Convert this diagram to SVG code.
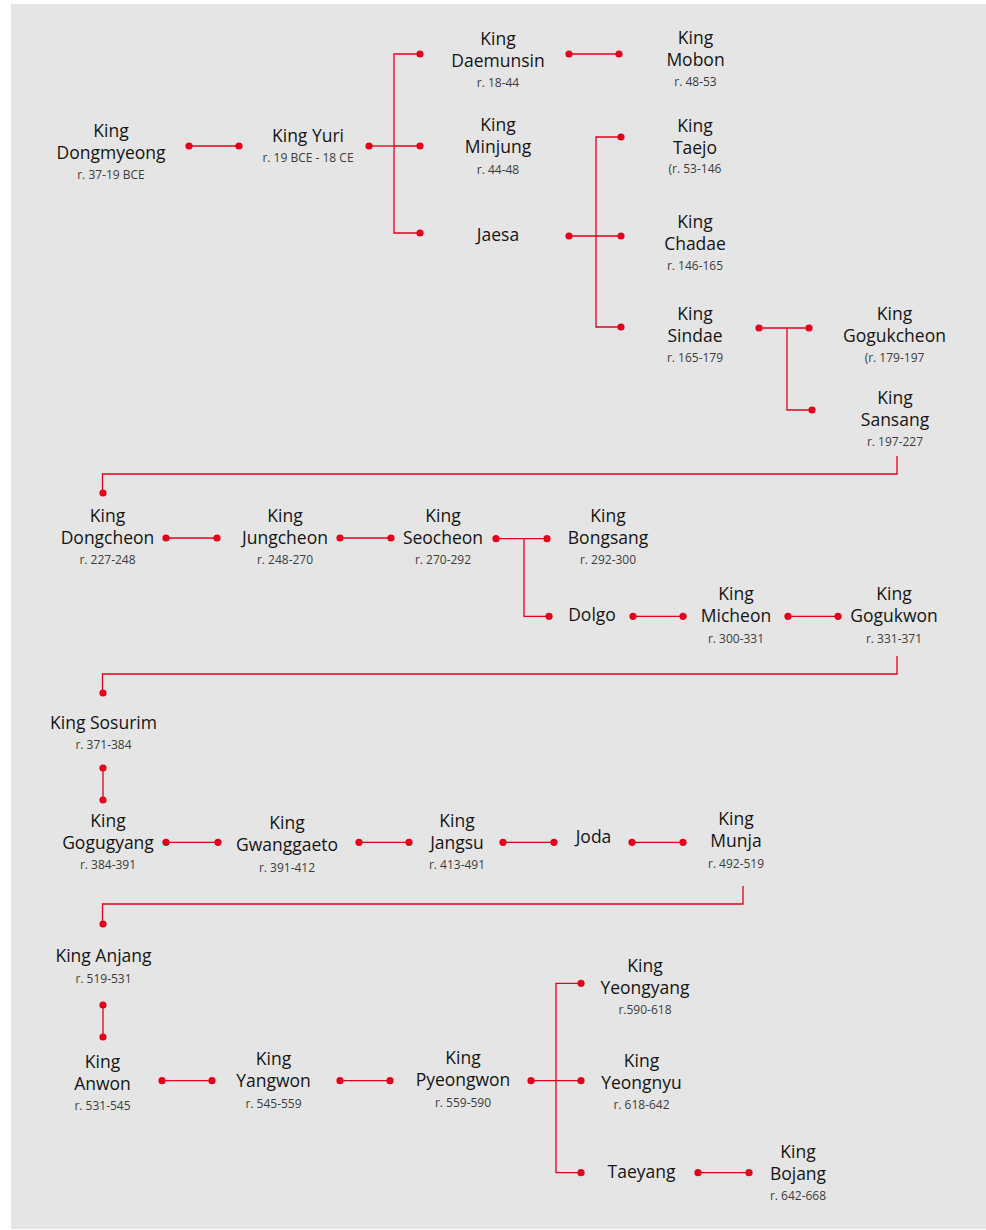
<svg xmlns="http://www.w3.org/2000/svg" width="986" height="1230" viewBox="0 0 986 1230">
<style>
.n{font-family:"Open Sans","Noto Sans",sans-serif;font-size:17.5px;fill:#141414;text-anchor:middle}
.r{font-family:"Open Sans","Noto Sans",sans-serif;font-size:12px;fill:#3c3c3c;text-anchor:middle}
.c line,.c path{stroke:#e4001c;stroke-width:1.3;fill:none}
.c circle{fill:#e4001c}
</style>
<rect x="11" y="4" width="975" height="1225" fill="#e5e5e5"/>
<g class="c" id="connectors">
<line x1="189" y1="146" x2="239" y2="146"/><circle cx="189" cy="146" r="3.6"/><circle cx="239" cy="146" r="3.6"/>
<line x1="369" y1="146" x2="394" y2="146"/><path d="M420,54 H394 V233 H420 M394,146 H420"/><circle cx="369" cy="146" r="3.6"/><circle cx="420" cy="54" r="3.6"/><circle cx="420" cy="146" r="3.6"/><circle cx="420" cy="233" r="3.6"/>
<line x1="569" y1="54" x2="619" y2="54"/><circle cx="569" cy="54" r="3.6"/><circle cx="619" cy="54" r="3.6"/>
<line x1="569" y1="236" x2="621" y2="236"/><path d="M621,137 H596 V327 H621"/><circle cx="569" cy="236" r="3.6"/><circle cx="621" cy="137" r="3.6"/><circle cx="621" cy="236" r="3.6"/><circle cx="621" cy="327" r="3.6"/>
<line x1="759" y1="328" x2="809" y2="328"/><path d="M787,328 V410 H812"/><circle cx="759" cy="328" r="3.6"/><circle cx="809" cy="328" r="3.6"/><circle cx="812" cy="410" r="3.6"/>
<path d="M897,456 V474 H102.5 V493"/><circle cx="103" cy="493" r="3.6"/>
<line x1="166" y1="538" x2="217" y2="538"/><circle cx="166" cy="538" r="3.6"/><circle cx="217" cy="538" r="3.6"/>
<line x1="340" y1="538" x2="391" y2="538"/><circle cx="340" cy="538" r="3.6"/><circle cx="391" cy="538" r="3.6"/>
<line x1="496" y1="538.7" x2="547" y2="538.7"/><path d="M524,538.7 V616.3 H549"/><circle cx="496" cy="538.7" r="3.6"/><circle cx="547" cy="538.7" r="3.6"/><circle cx="549" cy="616.3" r="3.6"/>
<line x1="633" y1="616.3" x2="683" y2="616.3"/><circle cx="633" cy="616.3" r="3.6"/><circle cx="683" cy="616.3" r="3.6"/>
<line x1="788" y1="616.3" x2="838" y2="616.3"/><circle cx="788" cy="616.3" r="3.6"/><circle cx="838" cy="616.3" r="3.6"/>
<path d="M897,656 V674 H102.5 V693"/><circle cx="103" cy="693" r="3.6"/>
<line x1="103" y1="768" x2="103" y2="800"/><circle cx="103" cy="768" r="3.6"/><circle cx="103" cy="800" r="3.6"/>
<line x1="166" y1="842.3" x2="218" y2="842.3"/><circle cx="166" cy="842.3" r="3.6"/><circle cx="218" cy="842.3" r="3.6"/>
<line x1="359" y1="842.3" x2="409" y2="842.3"/><circle cx="359" cy="842.3" r="3.6"/><circle cx="409" cy="842.3" r="3.6"/>
<line x1="503" y1="842.3" x2="554" y2="842.3"/><circle cx="503" cy="842.3" r="3.6"/><circle cx="554" cy="842.3" r="3.6"/>
<line x1="632" y1="842.3" x2="683" y2="842.3"/><circle cx="632" cy="842.3" r="3.6"/><circle cx="683" cy="842.3" r="3.6"/>
<path d="M743,886 V904 H102.5 V924"/><circle cx="103" cy="924" r="3.6"/>
<line x1="103" y1="1005" x2="103" y2="1037"/><circle cx="103" cy="1005" r="3.6"/><circle cx="103" cy="1037" r="3.6"/>
<line x1="162" y1="1080.7" x2="212" y2="1080.7"/><circle cx="162" cy="1080.7" r="3.6"/><circle cx="212" cy="1080.7" r="3.6"/>
<line x1="340" y1="1080.7" x2="390" y2="1080.7"/><circle cx="340" cy="1080.7" r="3.6"/><circle cx="390" cy="1080.7" r="3.6"/>
<line x1="531" y1="1080.7" x2="581" y2="1080.7"/><path d="M581,983.3 H556 V1172.7 H581"/><circle cx="531" cy="1080.7" r="3.6"/><circle cx="581" cy="983.3" r="3.6"/><circle cx="581" cy="1080.7" r="3.6"/><circle cx="581" cy="1172.7" r="3.6"/>
<line x1="698" y1="1172.7" x2="749" y2="1172.7"/><circle cx="698" cy="1172.7" r="3.6"/><circle cx="749" cy="1172.7" r="3.6"/>
</g>
<g id="dongmyeong"><text class="n" x="111" y="137">King<tspan x="111" dy="22">Dongmyeong</tspan></text><text class="r" x="111" y="179">r. 37-19 BCE</text></g>
<g id="yuri"><text class="n" x="308" y="142">King Yuri</text><text class="r" x="308" y="162">r. 19 BCE - 18 CE</text></g>
<g id="daemunsin"><text class="n" x="498" y="45">King<tspan x="498" dy="22">Daemunsin</tspan></text><text class="r" x="498" y="87">r. 18-44</text></g>
<g id="mobon"><text class="n" x="695.5" y="44">King<tspan x="695.5" dy="22">Mobon</tspan></text><text class="r" x="695.5" y="86">r. 48-53</text></g>
<g id="minjung"><text class="n" x="498" y="131">King<tspan x="498" dy="22">Minjung</tspan></text><text class="r" x="498" y="174">r. 44-48</text></g>
<g id="jaesa"><text class="n" x="498" y="241">Jaesa</text></g>
<g id="taejo"><text class="n" x="695" y="131.5">King<tspan x="695" dy="22">Taejo</tspan></text><text class="r" x="695" y="173">(r. 53-146</text></g>
<g id="chadae"><text class="n" x="695" y="227.5">King<tspan x="695" dy="22">Chadae</tspan></text><text class="r" x="695" y="270">r. 146-165</text></g>
<g id="sindae"><text class="n" x="695" y="319.5">King<tspan x="695" dy="22">Sindae</tspan></text><text class="r" x="695" y="362">r. 165-179</text></g>
<g id="gogukcheon"><text class="n" x="894.5" y="319.5">King<tspan x="894.5" dy="22">Gogukcheon</tspan></text><text class="r" x="894.5" y="362">(r. 179-197</text></g>
<g id="sansang"><text class="n" x="895" y="403.5">King<tspan x="895" dy="22">Sansang</tspan></text><text class="r" x="895" y="446">r. 197-227</text></g>
<g id="dongcheon"><text class="n" x="107.5" y="521.5">King<tspan x="107.5" dy="22">Dongcheon</tspan></text><text class="r" x="107.5" y="563.5">r. 227-248</text></g>
<g id="jungcheon"><text class="n" x="285" y="521.5">King<tspan x="285" dy="22">Jungcheon</tspan></text><text class="r" x="285" y="563.5">r. 248-270</text></g>
<g id="seocheon"><text class="n" x="443" y="521.5">King<tspan x="443" dy="22">Seocheon</tspan></text><text class="r" x="443" y="563.5">r. 270-292</text></g>
<g id="bongsang"><text class="n" x="608" y="521.5">King<tspan x="608" dy="22">Bongsang</tspan></text><text class="r" x="608" y="563.5">r. 292-300</text></g>
<g id="dolgo"><text class="n" x="592" y="621">Dolgo</text></g>
<g id="micheon"><text class="n" x="736" y="599.7">King<tspan x="736" dy="22">Micheon</tspan></text><text class="r" x="736" y="642.7">r. 300-331</text></g>
<g id="gogukwon"><text class="n" x="894" y="599.7">King<tspan x="894" dy="22">Gogukwon</tspan></text><text class="r" x="894" y="642.7">r. 331-371</text></g>
<g id="sosurim"><text class="n" x="103.5" y="728.5">King Sosurim</text><text class="r" x="103.5" y="749">r. 371-384</text></g>
<g id="gogugyang"><text class="n" x="108" y="826.5">King<tspan x="108" dy="22">Gogugyang</tspan></text><text class="r" x="108" y="868.5">r. 384-391</text></g>
<g id="gwanggaeto"><text class="n" x="287" y="829">King<tspan x="287" dy="22">Gwanggaeto</tspan></text><text class="r" x="287" y="871.7">r. 391-412</text></g>
<g id="jangsu"><text class="n" x="457" y="826.5">King<tspan x="457" dy="22">Jangsu</tspan></text><text class="r" x="457" y="869.3">r. 413-491</text></g>
<g id="joda"><text class="n" x="593.5" y="842.7">Joda</text></g>
<g id="munja"><text class="n" x="736" y="825.2">King<tspan x="736" dy="22">Munja</tspan></text><text class="r" x="736" y="868.3">r. 492-519</text></g>
<g id="anjang"><text class="n" x="103.5" y="962.3">King Anjang</text><text class="r" x="103.5" y="983.3">r. 519-531</text></g>
<g id="anwon"><text class="n" x="102.5" y="1067.5">King<tspan x="102.5" dy="22">Anwon</tspan></text><text class="r" x="102.5" y="1110">r. 531-545</text></g>
<g id="yangwon"><text class="n" x="273.5" y="1065.2">King<tspan x="273.5" dy="22">Yangwon</tspan></text><text class="r" x="273.5" y="1107.7">r. 545-559</text></g>
<g id="pyeongwon"><text class="n" x="463" y="1064.2">King<tspan x="463" dy="22">Pyeongwon</tspan></text><text class="r" x="463" y="1106.7">r. 559-590</text></g>
<g id="yeongyang"><text class="n" x="645" y="971.8">King<tspan x="645" dy="22">Yeongyang</tspan></text><text class="r" x="645" y="1014">r.590-618</text></g>
<g id="yeongnyu"><text class="n" x="641.5" y="1067.3">King<tspan x="641.5" dy="22">Yeongnyu</tspan></text><text class="r" x="641.5" y="1109">r. 618-642</text></g>
<g id="taeyang"><text class="n" x="641.5" y="1178.3">Taeyang</text></g>
<g id="bojang"><text class="n" x="798" y="1157.7">King<tspan x="798" dy="22">Bojang</tspan></text><text class="r" x="798" y="1200">r. 642-668</text></g>
</svg>
